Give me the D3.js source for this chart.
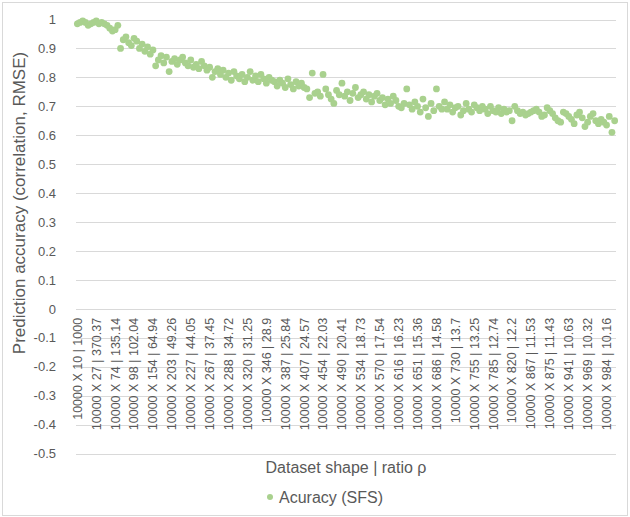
<!DOCTYPE html>
<html>
<head>
<meta charset="utf-8">
<script src="https://cdn.jsdelivr.net/npm/d3@7"></script>
<style>
    body { margin: 0; background: #fff; }
    text { font-family: "Liberation Sans", Arial, sans-serif; fill: #595959; }
</style>
</head>
<body>
<div id="chart"></div>
<script>
// category labels shown on the x axis (every 7th dataset)
const tickLabels = [
    "10000 X 10 | 1000", "10000 X 27 | 370.37", "10000 X 74 | 135.14", "10000 X 98 | 102.04",
    "10000 X 154 | 64.94", "10000 X 203 | 49.26", "10000 X 227 | 44.05", "10000 X 267 | 37.45",
    "10000 X 288 | 34.72", "10000 X 320 | 31.25", "10000 X 346 | 28.9", "10000 X 387 | 25.84",
    "10000 X 407 | 24.57", "10000 X 454 | 22.03", "10000 X 490 | 20.41", "10000 X 534 | 18.73",
    "10000 X 570 | 17.54", "10000 X 616 | 16.23", "10000 X 651 | 15.36", "10000 X 686 | 14.58",
    "10000 X 730 | 13.7", "10000 X 755 | 13.25", "10000 X 785 | 12.74", "10000 X 820 | 12.2",
    "10000 X 867 | 11.53", "10000 X 875 | 11.43", "10000 X 941 | 10.63", "10000 X 969 | 10.32",
    "10000 X 984 | 10.16"
];
const labelStep = 7;

// accuracy values, one per dataset
const accuracy = [
    0.985, 0.99, 0.995, 0.99, 0.98, 0.985, 0.99, 0.995, 0.985, 0.99, 0.985, 0.98,
    0.97, 0.96, 0.965, 0.98, 0.90,
    0.93, 0.94, 0.92, 0.91, 0.935, 0.925, 0.90, 0.915,
    0.89, 0.905, 0.88, 0.895,
    0.84, 0.86, 0.875, 0.85, 0.87, 0.82, 0.855, 0.865, 0.845, 0.86,
    0.87, 0.85, 0.84, 0.86, 0.835, 0.845, 0.83, 0.855, 0.84, 0.825, 0.835, 0.80,
    0.82, 0.83, 0.81, 0.825, 0.80, 0.815, 0.79, 0.82, 0.805, 0.795, 0.81, 0.785,
    0.80, 0.82, 0.79, 0.805, 0.785, 0.81, 0.795, 0.78, 0.80, 0.79, 0.785,
    0.77, 0.79, 0.78, 0.765, 0.795, 0.775, 0.76, 0.785, 0.77, 0.78, 0.765,
    0.76, 0.73, 0.815, 0.745, 0.75, 0.735, 0.81, 0.76, 0.74, 0.725,
    0.71, 0.755, 0.74, 0.78, 0.735, 0.75, 0.72, 0.745, 0.765, 0.73, 0.74,
    0.75, 0.725, 0.74, 0.715, 0.735, 0.745, 0.72, 0.73, 0.705, 0.725, 0.71, 0.735, 0.72,
    0.70, 0.695, 0.71, 0.76, 0.705, 0.69, 0.715,
    0.70, 0.68, 0.725, 0.695, 0.665, 0.71, 0.685, 0.76, 0.70, 0.69,
    0.715, 0.69, 0.705, 0.68, 0.695, 0.70, 0.67, 0.685, 0.71, 0.69, 0.68, 0.705, 0.695, 0.685, 0.70,
    0.69, 0.675, 0.70, 0.685, 0.68, 0.695, 0.675, 0.69, 0.68, 0.685, 0.65, 0.70, 0.685,
    0.675, 0.68, 0.67, 0.675, 0.68, 0.685, 0.69, 0.68, 0.665, 0.67, 0.695, 0.685, 0.675, 0.66,
    0.65, 0.645, 0.68, 0.675, 0.665, 0.655, 0.64, 0.67, 0.68, 0.66, 0.63, 0.645,
    0.665, 0.675, 0.65, 0.64, 0.655, 0.645, 0.635, 0.665, 0.61, 0.65
];

const yTicks = [1, 0.9, 0.8, 0.7, 0.6, 0.5, 0.4, 0.3, 0.2, 0.1, 0, -0.1, -0.2, -0.3, -0.4, -0.5];

const width = 630, height = 517;
const plot = { left: 76, right: 616, top: 19.5, bottom: 453.5 };
const fontFamily = '"Liberation Sans", Arial, sans-serif';

let svg = d3.select('#chart')
    .append('svg')
    .attr('width', width)
    .attr('height', height);

// outer chart border
svg.append('rect')
    .attr('x', 2.5)
    .attr('y', 2.5)
    .attr('width', width - 5)
    .attr('height', height - 4)
    .attr('fill', 'none')
    .attr('stroke', '#d9d9d9');

//Creating scales
let xScale = d3.scaleBand()
    .domain(d3.range(accuracy.length))
    .range([plot.left, plot.right]);

let yScale = d3.scaleLinear()
    .domain([-0.5, 1])
    .range([plot.bottom, plot.top]);

// gridlines
svg.append('g')
    .selectAll('line')
    .data(yTicks)
    .join('line')
    .attr('x1', plot.left)
    .attr('x2', plot.right)
    .attr('y1', d => Math.round(yScale(d)) + 0.5)
    .attr('y2', d => Math.round(yScale(d)) + 0.5)
    .attr('stroke', '#d9d9d9')
    .attr('stroke-width', 1);

// y axis labels (plain hyphen for negatives, like Excel)
let yAxis = d3.axisLeft(yScale)
    .tickValues(yTicks)
    .tickSize(0)
    .tickPadding(0)
    .tickFormat(d => String(+d.toFixed(1)));

svg.append('g')
    .attr('transform', 'translate(56,0)')
    .call(yAxis)
    .call(g => g.select('.domain').remove())
    .selectAll('text')
    .attr('font-size', '13px')
    .attr('font-family', fontFamily)
    .attr('fill', '#595959');

// x axis labels, rotated, hanging below the zero line
let xAxis = d3.axisBottom(xScale)
    .tickValues(d3.range(0, accuracy.length, labelStep))
    .tickSize(0)
    .tickFormat(i => tickLabels[i / labelStep]);

svg.append('g')
    .attr('transform', `translate(0, ${yScale(0)})`)
    .call(xAxis)
    .call(g => g.select('.domain').remove())
    .selectAll('text')
    .attr('font-size', '12.5px')
    .attr('font-family', fontFamily)
    .attr('fill', '#595959')
    .attr('text-anchor', 'end')
    .attr('dy', '0.35em')
    .attr('transform', 'translate(0,9) rotate(-90)')
    .attr('y', 0)
    .attr('x', 0);

// data points
svg.append('g')
    .selectAll('circle')
    .data(accuracy)
    .join('circle')
    .attr('cx', (d, i) => xScale(i) + xScale.bandwidth() / 2)
    .attr('cy', d => yScale(d))
    .attr('r', 3.4)
    .attr('fill', '#a9d18e');

// axis titles
svg.append('text')
    .attr('transform', 'translate(25, 203) rotate(-90)')
    .attr('text-anchor', 'middle')
    .attr('font-size', '17px')
    .text('Prediction accuracy (correlation, RMSE)');

svg.append('text')
    .attr('x', 346)
    .attr('y', 473)
    .attr('text-anchor', 'middle')
    .attr('font-size', '16px')
    .text('Dataset shape | ratio ρ');

// legend
svg.append('circle')
    .attr('cx', 270)
    .attr('cy', 497)
    .attr('r', 3)
    .attr('fill', '#a9d18e');

svg.append('text')
    .attr('x', 279)
    .attr('y', 503)
    .attr('font-size', '16px')
    .text('Acuracy (SFS)');
</script>
</body>
</html>
